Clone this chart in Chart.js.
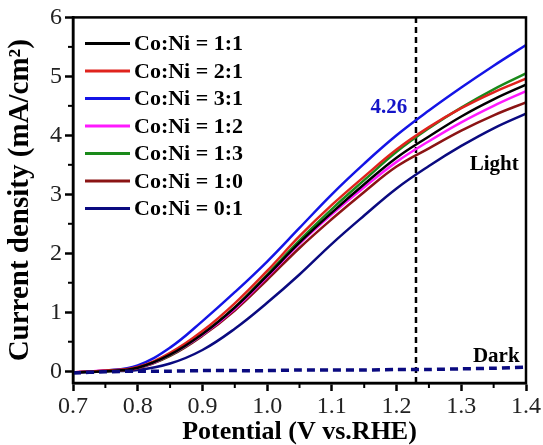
<!DOCTYPE html>
<html>
<head>
<meta charset="utf-8">
<script src="https://cdn.jsdelivr.net/npm/chart.js@4.4.1/dist/chart.umd.min.js"></script>
<style>
    html, body { margin: 0; padding: 0; background: #fff; }
    #wrap { width: 543px; height: 445px; }
</style>
</head>
<body>
<div id="wrap"><canvas id="lsvChart"></canvas></div>
<script>
// --- Data ---
const potential = [0.70, 0.75, 0.80, 0.85, 0.90, 0.95, 1.00, 1.05, 1.10, 1.15, 1.20, 1.25, 1.30, 1.35, 1.40];

const ratio11 = [-0.02, 0.00, 0.06, 0.28, 0.63, 1.08, 1.62, 2.18, 2.69, 3.17, 3.62, 3.98, 4.32, 4.61, 4.86];
const ratio21 = [-0.02, 0.01, 0.07, 0.31, 0.68, 1.15, 1.70, 2.29, 2.82, 3.30, 3.76, 4.14, 4.46, 4.73, 4.96];
const ratio31 = [-0.02, 0.01, 0.10, 0.40, 0.85, 1.34, 1.86, 2.43, 3.00, 3.52, 4.00, 4.42, 4.81, 5.18, 5.53];
const ratio12 = [-0.02, 0.01, 0.06, 0.28, 0.62, 1.06, 1.60, 2.16, 2.66, 3.12, 3.55, 3.90, 4.22, 4.50, 4.75];
const ratio13 = [-0.02, 0.00, 0.06, 0.27, 0.62, 1.08, 1.64, 2.22, 2.75, 3.24, 3.72, 4.12, 4.47, 4.78, 5.05];
const ratio10 = [-0.02, 0.00, 0.05, 0.26, 0.60, 1.03, 1.55, 2.09, 2.58, 3.04, 3.47, 3.78, 4.08, 4.34, 4.56];
const ratio01 = [-0.02, 0.00, 0.02, 0.13, 0.36, 0.72, 1.16, 1.64, 2.16, 2.64, 3.10, 3.48, 3.82, 4.12, 4.37];

// dark current (all samples overlap, navy on top)
const darkCurrent = [-0.03, -0.01, 0.00, 0.00, 0.01, 0.01, 0.01, 0.02, 0.02, 0.02, 0.03, 0.03, 0.04, 0.05, 0.07];

const seriesLabels = ["Co:Ni = 1:1", "Co:Ni = 2:1", "Co:Ni = 3:1", "Co:Ni = 1:2", "Co:Ni = 1:3", "Co:Ni = 1:0", "Co:Ni = 0:1"];
const seriesValues = [ratio11, ratio21, ratio31, ratio12, ratio13, ratio10, ratio01];
const seriesColors = ["#000000", "#e0231d", "#1414e6", "#ff1aff", "#1a8a1a", "#8b1414", "#0a0a80"];

const markerPotential = 1.23;   // dashed reference line
const markerValue = "4.26";

const xTicks = [0.7, 0.8, 0.9, 1.0, 1.1, 1.2, 1.3, 1.4];
const xMinor = [0.75, 0.85, 0.95, 1.05, 1.15, 1.25, 1.35];
const yTicks = [0, 1, 2, 3, 4, 5, 6];
const yMinor = [0.5, 1.5, 2.5, 3.5, 4.5, 5.5];
const xRange = [0.7, 1.4];
const yRange = [-0.2, 6];

const SERIF = "'Liberation Serif', 'Times New Roman', serif";

// --- build datasets ---
const toPoints = (ys) => potential.map((x, i) => ({ x: x, y: ys[i] }));

const datasets = [];
// dark current first so the light curves sit above
datasets.push({
    label: "Dark",
    data: toPoints(darkCurrent),
    borderColor: "#0a0a80",
    borderWidth: 3.5,
    borderDash: [8, 5],
    pointRadius: 0,
    tension: 0.3,
    inLegend: false
});
seriesLabels.forEach((name, i) => {
    datasets.push({
        label: name,
        data: toPoints(seriesValues[i]),
        borderColor: seriesColors[i],
        borderWidth: 2.5,
        pointRadius: 0,
        tension: 0.4,
        inLegend: true
    });
});
datasets.push({
    label: "1.23 V",
    data: [{ x: markerPotential, y: yRange[0] }, { x: markerPotential, y: yRange[1] }],
    borderColor: "#000",
    borderWidth: 2.5,
    borderDash: [6, 4],
    pointRadius: 0,
    inLegend: false
});

// --- plugins: frame, minor ticks, legend, text labels ---
const framePlugin = {
    id: "frame",
    afterDraw(chart) {
        const { ctx, chartArea: a, scales } = chart;
        ctx.save();
        ctx.strokeStyle = "#000";
        ctx.lineWidth = 2.5;
        ctx.strokeRect(a.left, a.top, a.right - a.left, a.bottom - a.top);

        // minor ticks
        ctx.lineWidth = 2;
        xMinor.forEach(v => {
            const px = scales.x.getPixelForValue(v);
            ctx.beginPath();
            ctx.moveTo(px, a.bottom);
            ctx.lineTo(px, a.bottom + 5);
            ctx.stroke();
        });
        yMinor.forEach(v => {
            const py = scales.y.getPixelForValue(v);
            ctx.beginPath();
            ctx.moveTo(a.left, py);
            ctx.lineTo(a.left - 5, py);
            ctx.stroke();
        });

        // legend
        ctx.font = "bold 22px " + SERIF;
        ctx.textBaseline = "middle";
        ctx.textAlign = "left";
        const items = chart.data.datasets.filter(d => d.inLegend);
        items.forEach((d, i) => {
            const y = a.top + 26 + i * 27.5;
            ctx.strokeStyle = d.borderColor;
            ctx.lineWidth = 3;
            ctx.beginPath();
            ctx.moveTo(a.left + 12, y);
            ctx.lineTo(a.left + 57, y);
            ctx.stroke();
            ctx.fillStyle = "#000";
            ctx.fillText(d.label, a.left + 61, y + 1);
        });

        // annotations
        ctx.font = "bold 21px " + SERIF;
        ctx.textAlign = "center";
        ctx.fillStyle = "#1414c8";
        ctx.fillText(markerValue, scales.x.getPixelForValue(1.188), scales.y.getPixelForValue(4.47));
        ctx.fillStyle = "#000";
        ctx.fillText("Light", scales.x.getPixelForValue(1.351), scales.y.getPixelForValue(3.51));
        ctx.fillText("Dark", scales.x.getPixelForValue(1.354), scales.y.getPixelForValue(0.25));
        ctx.restore();
    }
};

new Chart(document.getElementById("lsvChart"), {
    type: "line",
    data: { datasets: datasets },
    options: {
        responsive: true,
        maintainAspectRatio: false,
        animation: false,
        devicePixelRatio: 1,
        layout: { padding: { left: 0, top: 17, right: 17, bottom: 0 } },
        plugins: {
            legend: { display: false },
            tooltip: { enabled: false }
        },
        scales: {
            x: {
                type: "linear",
                min: xRange[0],
                max: xRange[1],
                afterBuildTicks: (scale) => { scale.ticks = xTicks.map(v => ({ value: v })); },
                afterFit: (scale) => { scale.height = 62; },
                grid: { drawOnChartArea: false, tickLength: 8, tickWidth: 2.5, tickColor: "#000" },
                border: { display: true, color: "#000", width: 2.5 },
                ticks: {
                    color: "#222",
                    font: { family: SERIF, size: 24 },
                    padding: 1,
                    maxRotation: 0,
                    callback: (v) => v.toFixed(1)
                },
                title: {
                    display: true,
                    text: "Potential (V vs.RHE)",
                    color: "#000",
                    font: { family: SERIF, size: 26, weight: "bold" },
                    padding: { top: 0, bottom: -3 }
                }
            },
            y: {
                type: "linear",
                min: yRange[0],
                max: yRange[1],
                afterBuildTicks: (scale) => { scale.ticks = yTicks.map(v => ({ value: v })); },
                afterFit: (scale) => { scale.width = 73; },
                grid: { drawOnChartArea: false, tickLength: 8, tickWidth: 2.5, tickColor: "#000" },
                border: { display: true, color: "#000", width: 2.5 },
                ticks: {
                    color: "#222",
                    font: { family: SERIF, size: 24 },
                    padding: 3,
                    callback: (v) => String(v)
                },
                title: {
                    display: true,
                    text: "Current density (mA/cm²)",
                    color: "#000",
                    font: { family: SERIF, size: 29, weight: "bold" },
                    padding: { top: 3, bottom: 0 }
                }
            }
        }
    },
    plugins: [framePlugin]
});
</script>
</body>
</html>
